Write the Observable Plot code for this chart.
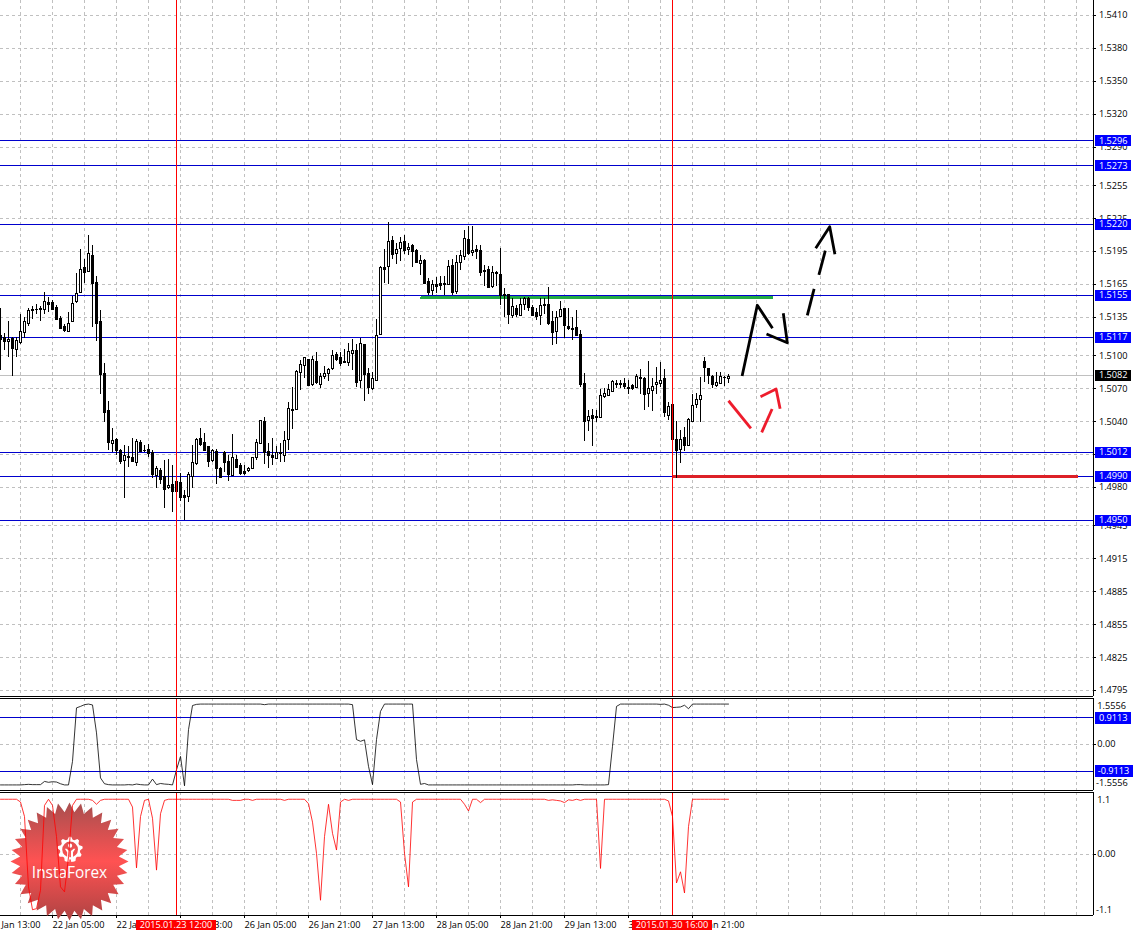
<!DOCTYPE html>
<html>
<head>
<meta charset="utf-8">
<title>GBP/USD H1 chart</title>
<script src="https://cdn.jsdelivr.net/npm/d3@7"></script>
<script src="https://cdn.jsdelivr.net/npm/@observablehq/plot@0.6"></script>
<style>
html,body{margin:0;padding:0;background:#fff;overflow:hidden}
#chart svg{display:block}
</style>
</head>
<body>
<div id="chart"></div>
<script>
// Prices are given in pips above 1.5000; one bar per hour, indexed from the left edge.
const pipBase = 1.5;
const highs = [
143,120,131,117,117,138,135,143,145,147,
145,158,153,150,146,136,128.5,139,154,175,
197,188,210,200,172,141,93,58,34,25,
15,18,17,25,24,23,18,19,14,-1,
-3,4.5,5.5,0,-6,-7,-23,-6,18,25,
34,29,17,15,15,-1.5,13,9,28,9,
1.5,0,-1.5,7.5,24,41,44,20,25,17,
20,31,57,71,87,96,98,97,99,103,
83.5,90,88,105,103,103,106,111,115,110,
116,110,88,85,133,181,197,221,209,202,
208,210,202,201,197,191,188,170,168.5,171.5,
172,172,187,188,191,196,214,218,218,200,
200,182,181,181,177,198,161.5,156,152,146,
152,153,153,146,143,152,152.5,162,140,140,
149,143,143,135,141,123,83.5,50,51,50,
69,70,74,77,77,77,79,77,73.5,82.5,
87.5,80,95,79,89.5,93.5,87.5,57,55.5,40,
32,35,42.5,65,66,80.5,98,88.5,82,85,
85,81,82.5];
const lows = [
87,105,98,81,98,110,116,127,133,138,
131.5,138,139,142,132,124,121.5,121.5,131,148,
157,165.5,177,126,113,65,39.5,14,12,9,
1,-30,-1.5,3,-1,12,12,7.5,-12,-21,
-17,-39,-21.5,-42.5,-32,-32.5,-50,-34,-21,0,
17,14,-1.5,3,-17,-12,-6.5,-15,-9,-3,
-9,-9,-6,-3,4.5,20,0.5,-3,0,6,
3,3,14,33,50,68,79,73,72,74,
70,78,76.5,87,94.5,90.5,92.5,90,86.5,71,
70,58.5,65,68,77,119,165.5,165,188,183,
186,192,191,180,184,173,166,155,155,157,
159,155,165,155,156,178,187,191,190,188,
172,163,161.5,161.5,163,146,135,128.5,134,135,
136,141,140,136,132,127.5,138,127.5,109,110,
135,116,123,114,118,71,22,31,17.5,39.5,
44,61,64,67,70,70,69,65,68,70.5,
65,50,53,49,65,71,44,41,23.5,-12,
2,13,17.5,39.5,52,39.5,76,74,70.5,71,
74,72,75];
const opens = [
118,117,113,116,106,112,121,129,142,142.5,
143,142,148.5,148.5,144,134,127,122.5,131,149,
158,180,177,191,167,131,84,50,20,24,
14,5,8,7,3,21,14,15,11.5,-9,
-4.5,-10,-20,-17.5,-15,-15.5,-27,-28,-10,2,
25,21,17,4.5,13,-2.5,11.5,4,-9,5.5,
0,-5.5,-5,-2.5,7.5,20,40,13,9,6.5,
12,9.5,24,51,51,85,91,97,74,95,
74,81,84,88,101,98,95,94,102,105,
77,110,84,70.5,77,119,180,181,205,193,
198,204,197,200,196,184,187,168,159,165,
166,166,165,182,158.5,185,190,206,194,197,
196,178,178.5,163,175.5,174,155.5,155.5,137,143.5,
137,147,152,144,139,137,147,147,131,122,
136,143,127,125,126,119,75,41,46,45,
44,63,64,67,75,75,74.5,70,72.5,71,
80,79,66,68.5,73.5,75,79,46,55.5,23.5,
14.5,25.5,18,40,55.5,60,94.5,88,81.5,73,
75,80.5,79];
const closes = [
115,113,114.5,107,114,122,131,141,141,142,
142.5,149,147,142.5,133,125,123,129,148,157,
179,176,193,166,129,83,48.5,21,23,14,
4,9,7.5,4,22,13,13.5,11,-8,-3,
-12.5,-21.5,-18.5,-23.5,-24,-29,-29,-8.5,3,24,
19,14,4,14,-2.5,-11,3,-8,7,-2,
-7.5,-7,-3,7,21,41,11.5,9.5,7.5,11.5,
10.5,23,52,50,86,92,98,73,96.5,76,
81,83.5,87.5,100,97,93,94,104,105,76,
111,83,71,79,118,180,179,204,192.5,197,
203,196,199,195,185,187,166,158,165,163,
164,165,181,158,185,191,206.5,193,196,195,
176,177,162.5,175.5,175,155,154.5,138,145,137.5,
147,152,144,137,136,146,146,129,121.5,135,
142,127.5,124.5,123.5,118,74,40,45,43,44,
64,65.5,69,76.5,74,73.5,72,71,70.5,81,
79,65,70,72,76,77,48,54,24,13.5,
24,18,41.5,55,60,64,89,82,74,76,
81,80,81.5];
const oscillatorA = [
-1.39,-1.39,-1.39,-1.39,-1.39,-1.39,-1.38,-1.37,-1.38,-1.38,
-1.38,-1.27,-1.30,-1.28,-1.29,-1.35,-1.39,-1.39,-0.58,1.26,
1.31,1.37,1.39,1.36,0.40,-1.15,-1.35,-1.38,-1.39,-1.39,
-1.39,-1.39,-1.38,-1.39,-1.36,-1.38,-1.39,-1.39,-1.19,-1.38,
-1.34,-1.36,-1.37,-1.39,-0.87,-0.41,-1.42,0.51,1.34,1.38,
1.39,1.39,1.39,1.39,1.39,1.39,1.39,1.39,1.39,1.39,
1.39,1.39,1.39,1.39,1.39,1.39,1.37,1.39,1.39,1.39,
1.39,1.39,1.39,1.39,1.39,1.39,1.39,1.39,1.39,1.39,
1.39,1.39,1.39,1.39,1.39,1.39,1.39,1.39,1.37,0.17,
0.11,0.16,-0.75,-1.38,0.17,1.14,1.39,1.39,1.39,1.39,
1.39,1.39,1.39,1.39,-0.52,-1.37,-1.34,-1.39,-1.39,-1.39,
-1.39,-1.39,-1.39,-1.39,-1.39,-1.39,-1.39,-1.39,-1.39,-1.39,
-1.39,-1.39,-1.39,-1.39,-1.39,-1.39,-1.39,-1.39,-1.39,-1.39,
-1.39,-1.39,-1.39,-1.39,-1.39,-1.39,-1.39,-1.39,-1.39,-1.39,
-1.39,-1.39,-1.39,-1.39,-1.38,-1.38,-1.39,-1.39,-1.39,-1.39,
-1.39,-1.39,-1.38,-0.06,1.31,1.39,1.39,1.39,1.39,1.39,
1.39,1.39,1.39,1.39,1.39,1.38,1.39,1.35,1.27,1.28,
1.29,1.35,1.23,1.39,1.39,1.39,1.39,1.39,1.39,1.39,
1.39,1.39,1.39];
const oscillatorB = [
.99,.99,.99,.99,.99,.94,.68,-.58,-.99,-.97,
-.64,.88,.99,.88,.32,-.58,-.67,-.04,.88,.99,
.99,.99,.99,.97,.90,.97,.99,.99,.99,.99,
.99,.99,.99,.85,-.24,.68,.97,.99,.65,-.28,
.73,.97,.99,.99,.99,.99,.99,.99,.99,.99,
.99,.99,.99,.99,.99,.99,.99,.99,.97,.97,
.97,.99,.99,.97,.99,.99,.99,.99,.99,.99,
.99,.97,.99,.99,.99,.99,.99,.91,.58,.02,
-.82,.32,.90,.38,.08,.94,.99,.97,.99,.99,
.99,.99,.99,.99,.99,.99,.99,.99,.99,.99,
.94,.02,-.58,.94,.99,.99,.99,.99,.99,.99,
.99,.99,.99,.99,.99,.99,.90,.78,.99,.99,
.93,.99,.99,.99,.99,.99,.99,.99,.99,.99,
.99,.99,.99,.99,.99,.99,.99,.97,.98,.97,
.96,.93,.98,.97,.99,.97,.99,.99,.99,.99,
-.25,.99,.99,.99,.99,.99,.99,.99,.99,.99,
.99,.99,.99,.99,.99,.99,.99,.96,.68,-.51,
-.31,-.69,.50,.99,.99,.99,.99,.99,.99,.99,
.99,.99,.99];

const priceTicks = [1.5410,1.5380,1.5350,1.5320,1.5290,1.5255,1.5225,1.5195,1.5165,1.5135,1.5100,1.5070,1.5040,1.5010,1.4980,1.4945,1.4915,1.4885,1.4855,1.4825,1.4795];
const levels = [1.5296,1.5273,1.5220,1.5155,1.5117,1.5012,1.4990,1.4950];
const lastPrice = 1.5082;
const dateLabels = ["21 Jan 13:00","22 Jan 05:00","22 Jan 21:00","23 Jan 13:00","26 Jan 05:00","26 Jan 21:00","27 Jan 13:00","28 Jan 05:00","28 Jan 21:00","29 Jan 13:00","30 Jan 05:00","30 Jan 21:00"];
const dateBars = [-3,13,29,45,61,77,93,109,125,141,157,173];
const gridBars = d3.range(5, 273, 8);
const markerBars = [44,168];
const markerTexts = ["2015.01.23 12:00","2015.01.30 16:00"];
const markerSpans = [[33.875,53.875],[157.875,177.875]];
const oscALevels = [0.9113,-0.9113];

// hand-drawn annotations on the price panel: [bar, price]
const blackStrokes = [
  [[185.4,1.50815],[189.2,1.5146],[193,1.5125]],
  [[191.5,1.51198],[196.7,1.51119],[195.7,1.51387]],
  [[201.7,1.51368],[203.4,1.5161]],
  [[204.6,1.51736],[206.2,1.51957]],
  [[203.8,1.51979],[207.3,1.52176],[208.6,1.51924]]
];
const redStrokes = [
  [[182,1.5059],[187.6,1.50339]],
  [[190.3,1.50302],[192.9,1.50515]],
  [[190,1.50627],[193.9,1.50697],[194.9,1.50517]]
];
const greenLine = [[105.3,1.5153],[192.8,1.5153]];
const redLine = [[168.5,1.4990],[269,1.4990]];

const axisBar = 273.25, axisTickEnd = 274, labelBar = 274.6, tagStart = 273.6, tagEnd = 282.6;
const font = '"Open Sans", "Liberation Sans", sans-serif';
const labelSize = 9.2;
const blue = "#0000cd", lineBlue = "#0000ff", gridGray = "#c0c0c0", red = "#ff0000";
const crisp = {shapeRendering:"crispEdges"};
const candles = highs.map((h,i)=>({i,h:pipBase+h/1e4,l:pipBase+lows[i]/1e4,o:pipBase+opens[i]/1e4,c:pipBase+closes[i]/1e4}));
const flat = strokes => strokes.flatMap((s,id)=>s.map(([x,y])=>({id,x,y})));
const bars = d=>d.i-0.25, barsEnd = d=>d.i+0.25;

function pane(height, domain, range, marks){
  return Plot.plot({
    width:1135, height, margin:0,
    x:{axis:null, domain:[0,283.75], range:[0,1135]},
    y:{axis:null, domain, range},
    style:{fontFamily:font, background:"white"},
    marks
  });
}
const grid = (top,bottom)=>Plot.ruleX(gridBars,{y1:top,y2:bottom,stroke:gridGray,strokeDasharray:"3,3",...crisp});
const hgrid = vals=>Plot.ruleY(vals,{x1:0,x2:axisBar,stroke:gridGray,strokeDasharray:"3,3",...crisp});
const axisLine = (top,bottom)=>Plot.ruleX([axisBar],{y1:top,y2:bottom,stroke:"black",...crisp});
const hLine = (v,color="black")=>Plot.ruleY([v],{x1:0,x2:axisBar,stroke:color,...crisp});
const ticks = vals=>Plot.ruleY(vals,{x1:axisBar,x2:axisTickEnd,stroke:"black",...crisp});
const markers = (top,bottom)=>Plot.ruleX(markerBars,{y1:top,y2:bottom,stroke:red,...crisp});

// ---------- price panel ----------
const pTop = 1.5424, pBottom = 1.47895, tagPad = 0.0005;
const priceSvg = pane(697,[1.4795,1.5410],[690,15],[
  grid(pTop,pBottom),
  hgrid(priceTicks),
  ticks(priceTicks),
  Plot.text(priceTicks,{x:()=>labelBar,y:d=>d,text:d=>d.toFixed(4),textAnchor:"start",fontSize:labelSize,fill:"black"}),
  hLine(lastPrice,gridGray),
  Plot.ruleY(levels,{x1:0,x2:axisBar,stroke:blue,...crisp}),
  Plot.line(greenLine,{x:d=>d[0],y:d=>d[1],stroke:"#22aa44",strokeWidth:3,...crisp}),
  Plot.line(redLine,{x:d=>d[0],y:d=>d[1],stroke:"#dd2027",strokeWidth:3,...crisp}),
  Plot.ruleX(candles,{x:"i",y1:"l",y2:"h",stroke:"black",...crisp}),
  Plot.rect(candles.filter(d=>d.c>=d.o),{x1:bars,x2:barsEnd,y1:"o",y2:"c",fill:"white",stroke:"black",dx:.5,dy:.5,...crisp}),
  Plot.rect(candles.filter(d=>d.c<d.o),{x1:bars,x2:barsEnd,y1:"o",y2:"c",fill:"black",stroke:"black",dx:.5,dy:.5,...crisp}),
  markers(pTop,pBottom),
  Plot.line(flat(blackStrokes),{x:"x",y:"y",z:"id",stroke:"black",strokeWidth:2.8,strokeLinecap:"butt"}),
  Plot.line(flat(redStrokes),{x:"x",y:"y",z:"id",stroke:"#ee1c2c",strokeWidth:2.8,strokeLinecap:"butt"}),
  hLine(pBottom),
  axisLine(pTop,pBottom),
  Plot.rect(levels,{x1:()=>tagStart,x2:()=>tagEnd,y1:d=>d-tagPad,y2:d=>d+tagPad,fill:lineBlue,dx:.5,dy:.5,...crisp}),
  Plot.rect([lastPrice],{x1:()=>tagStart,x2:()=>tagEnd,y1:d=>d-tagPad,y2:d=>d+tagPad,fill:"black",dx:.5,dy:.5,...crisp}),
  Plot.text([...levels,lastPrice],{x:()=>labelBar,y:d=>d,text:d=>d.toFixed(4),textAnchor:"start",fontSize:labelSize,fill:"white"})
]);

// ---------- first oscillator ----------
const aTop = 1.582, aBottom = -1.582, aPad = 0.19;
const oscASvg = pane(95,[-1.5556,1.5556],[92.24,1.76],[
  grid(aTop,aBottom),
  hgrid([0]),
  Plot.ruleY(oscALevels,{x1:0,x2:axisBar,stroke:blue,...crisp}),
  Plot.line(oscillatorA,{x:(d,i)=>i,y:d=>d,stroke:"black",strokeWidth:.8,...crisp}),
  markers(aTop,aBottom),
  hLine(aTop), hLine(aBottom),
  axisLine(aTop,aBottom),
  ticks([0]),
  Plot.text([1.5556],{x:()=>274.2,y:d=>d,dy:7,text:d=>d.toFixed(4),textAnchor:"start",fontSize:labelSize,fill:"black"}),
  Plot.text([-1.5556],{x:()=>273.9,y:d=>d,dy:-7,text:d=>d.toFixed(4),textAnchor:"start",fontSize:labelSize,fill:"black"}),
  Plot.text([0],{x:()=>274.2,y:d=>d,text:d=>d.toFixed(2),textAnchor:"start",fontSize:labelSize,fill:"black"}),
  Plot.rect(oscALevels,{x1:()=>tagStart,x2:d=>d<0?283:tagEnd,y1:d=>d-aPad,y2:d=>d+aPad,fill:lineBlue,dx:.5,dy:.5,...crisp}),
  Plot.text(oscALevels,{x:d=>d<0?274.3:labelBar,y:d=>d,text:d=>d.toFixed(4),textAnchor:"start",fontSize:labelSize,fill:"white"})
]);

// ---------- second oscillator with watermark and date axis ----------
const bTop = 1.111, bBottom = -1.093;
const starSymbol = {draw(ctx,size){
  const R=Math.sqrt(size/Math.PI), n=32;
  for(let j=0;j<2*n;j++){
    const r=j%2?R*.84:R, a=j*Math.PI/n;
    const x=r*Math.sin(a), y=-r*Math.cos(a);
    j?ctx.lineTo(x,y):ctx.moveTo(x,y);
  }
  ctx.closePath();
}};
const gearSymbol = {draw(ctx,size){
  const R=Math.sqrt(size/Math.PI), n=9, root=R*.8;
  for(let j=0;j<n*4;j++){
    const r=(j%4<2)?R:root, a=(j-.5)*2*Math.PI/(n*4);
    const x=r*Math.sin(a), y=-r*Math.cos(a);
    j?ctx.lineTo(x,y):ctx.moveTo(x,y);
  }
  ctx.closePath();
  const h=R*.62;
  ctx.moveTo(h,0);
  ctx.arc(0,0,h,0,-2*Math.PI,true);
  ctx.closePath();
}};
const figureSymbol = {draw(ctx,size){
  const u=Math.sqrt(size/Math.PI);
  ctx.moveTo(u*.3,-u*.55);
  ctx.arc(0,-u*.55,u*.3,0,2*Math.PI);
  ctx.closePath();
  ctx.moveTo(-u*.75,-u*.12);ctx.lineTo(-u*.5,-u*.12);ctx.lineTo(-u*.12,u*.2);ctx.lineTo(-u*.12,u*1.75);ctx.lineTo(-u*.42,u*1.75);ctx.lineTo(-u*.42,u*.4);ctx.closePath();
  ctx.moveTo(u*.75,-u*.12);ctx.lineTo(u*.5,-u*.12);ctx.lineTo(u*.12,u*.2);ctx.lineTo(u*.12,u*1.75);ctx.lineTo(u*.42,u*1.75);ctx.lineTo(u*.42,u*.4);ctx.closePath();
}};
const wmDefs = () => {
  const defs = d3.create("svg:defs");
  const g = defs.append("linearGradient").attr("id","wmFill").attr("x1",0).attr("x2",0).attr("y1",0).attr("y2",1);
  g.append("stop").attr("offset",0).attr("stop-color","#a84f4f");
  g.append("stop").attr("offset",.5).attr("stop-color","#ff5252");
  g.append("stop").attr("offset",1).attr("stop-color","#ad4343");
  return defs.node();
};
const oscBSvg = pane(140,[-1.1,1.1],[123.38,.62],[
  wmDefs,
  grid(bTop,bBottom),
  hgrid([0]),
  hLine(bBottom),
  Plot.ruleX(dateBars.filter(b=>b>=0),{y1:bBottom,y2:bBottom-.055,stroke:"black",...crisp}),
  Plot.dot([0],{x:()=>17.25,y:()=>-.125,r:59,symbol:starSymbol,fill:"url(#wmFill)",stroke:"none"}),
  Plot.dot([0],{x:()=>17.4,y:()=>.09,r:12.7,symbol:gearSymbol,fill:"white",stroke:"none"}),
  Plot.dot([0],{x:()=>17.4,y:()=>.09,r:7,symbol:figureSymbol,fill:"white",stroke:"none"}),
  Plot.text(["InstaForex"],{x:()=>17.25,y:()=>-.34,textAnchor:"middle",fontFamily:'"Open Sans"',fontSize:15.4,fill:"white"}),
  Plot.line(oscillatorB,{x:(d,i)=>i,y:d=>d,stroke:red,strokeWidth:.8,...crisp}),
  markers(bTop,bBottom),
  hLine(bTop),
  axisLine(bTop,bBottom),
  ticks([0]),
  Plot.text([1.1],{x:()=>274.2,y:d=>d,dy:7,text:d=>d.toFixed(1),textAnchor:"start",fontSize:labelSize,fill:"black"}),
  Plot.text([-1.1],{x:()=>273.9,y:d=>d,dy:-6,text:d=>d.toFixed(1),textAnchor:"start",fontSize:labelSize,fill:"black"}),
  Plot.text([0],{x:()=>274.2,y:d=>d,text:d=>d.toFixed(2),textAnchor:"start",fontSize:labelSize,fill:"black"}),
  Plot.text(dateLabels,{x:(d,i)=>dateBars[i],y:()=>-1.267,text:d=>d,textAnchor:"start",fontSize:labelSize,fill:"black"}),
  Plot.rect(markerSpans,{x1:d=>d[0],x2:d=>d[1],y1:()=>-1.168,y2:()=>-1.348,fill:red,dx:.5,dy:.5,...crisp}),
  Plot.text(markerTexts,{x:(d,i)=>(markerSpans[i][0]+markerSpans[i][1])/2,y:()=>-1.267,text:d=>d,textAnchor:"middle",fontSize:labelSize,fill:"white"})
]);

const host = document.getElementById("chart");
host.append(priceSvg, oscASvg, oscBSvg);
</script>
</body>
</html>
